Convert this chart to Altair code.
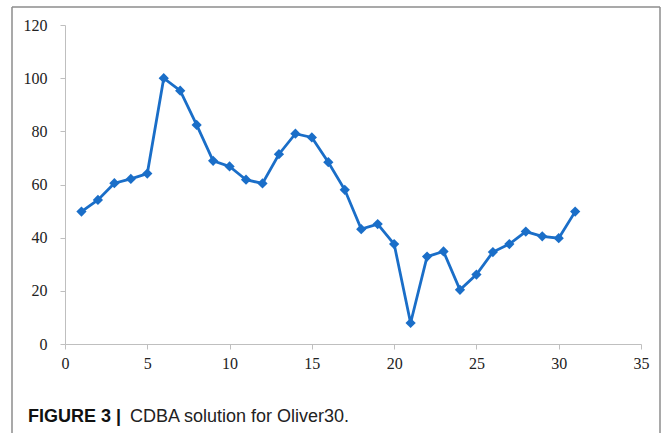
import altair as alt
import pandas as pd

iterations = list(range(1, 32))
values = [49.8, 54.2, 60.5, 62.1, 64.1, 100.0, 95.3, 82.4, 68.9, 66.8,
          61.8, 60.4, 71.4, 79.1, 77.7, 68.4, 58.0, 43.2, 45.1, 37.6,
          7.9, 32.9, 34.8, 20.4, 26.1, 34.6, 37.6, 42.3, 40.5, 39.8, 49.8]
x_ticks = [0, 5, 10, 15, 20, 25, 30, 35]
y_ticks = [0, 20, 40, 60, 80, 100, 120]
caption_bold = "FIGURE 3 |"
caption_rest = "CDBA solution for Oliver30."

df = pd.DataFrame({"x": iterations, "y": values})
one = pd.DataFrame({"a": [0]})

BLUE = "#1a6ec8"
AXIS = "#bfbfbf"
SERIF = "Liberation Serif, Times New Roman, DejaVu Serif, serif"

x_enc = alt.X("x:Q", scale=alt.Scale(domain=[0, 35], nice=False, zero=False),
              axis=alt.Axis(values=x_ticks, title=None, grid=False, domain=True,
                            domainColor=AXIS, tickColor=AXIS, tickSize=5,
                            labelFont=SERIF, labelFontSize=16, labelColor="#222",
                            labelPadding=6, labelFlush=False, labelOverlap=False))
y_enc = alt.Y("y:Q", scale=alt.Scale(domain=[0, 120], nice=False),
              axis=alt.Axis(values=y_ticks, title=None, grid=False, domain=True,
                            domainColor=AXIS, tickColor=AXIS, tickSize=5,
                            labelFont=SERIF, labelFontSize=16, labelColor="#222",
                            labelPadding=13, labelFlush=False, labelOverlap=False))

line = alt.Chart(df).mark_line(color=BLUE, strokeWidth=2.8).encode(x=x_enc, y=y_enc)
pts = alt.Chart(df).mark_point(shape="diamond", filled=True, color=BLUE, size=105,
                               opacity=1).encode(x="x:Q", y="y:Q")

FR = "#8c8c8c"
left = alt.Chart(one).mark_rule(color=FR, strokeWidth=1.5).encode(
    x=alt.value(-53), y=alt.value(-18), y2=alt.value(430))
top = alt.Chart(one).mark_rule(color=FR, strokeWidth=1.5).encode(
    x=alt.value(-53), x2=alt.value(595), y=alt.value(-18))
right = alt.Chart(one).mark_rule(color=FR, strokeWidth=1.5).encode(
    x=alt.value(595), y=alt.value(-18), y2=alt.value(430))

cap1 = alt.Chart(one).mark_text(text=caption_bold, font="Liberation Sans", fontWeight="bold",
                                fontSize=18, align="left", baseline="alphabetic",
                                color="#111").encode(x=alt.value(-37), y=alt.value(397))
cap2 = alt.Chart(one).mark_text(text=caption_rest, font="Liberation Sans", fontWeight="normal",
                                fontSize=18, align="left", baseline="alphabetic",
                                color="#222").encode(x=alt.value(65), y=alt.value(397))

chart = alt.layer(line, pts, left, top, right, cap1, cap2).properties(
    width=576, height=319,
    padding={"left": 65, "top": 25, "right": 23, "bottom": 89},
    autosize=alt.AutoSizeParams(type="none"),
    background="white",
).configure_view(stroke=None)

chart.save("out.html", embed_options={"renderer": "svg", "actions": False})
